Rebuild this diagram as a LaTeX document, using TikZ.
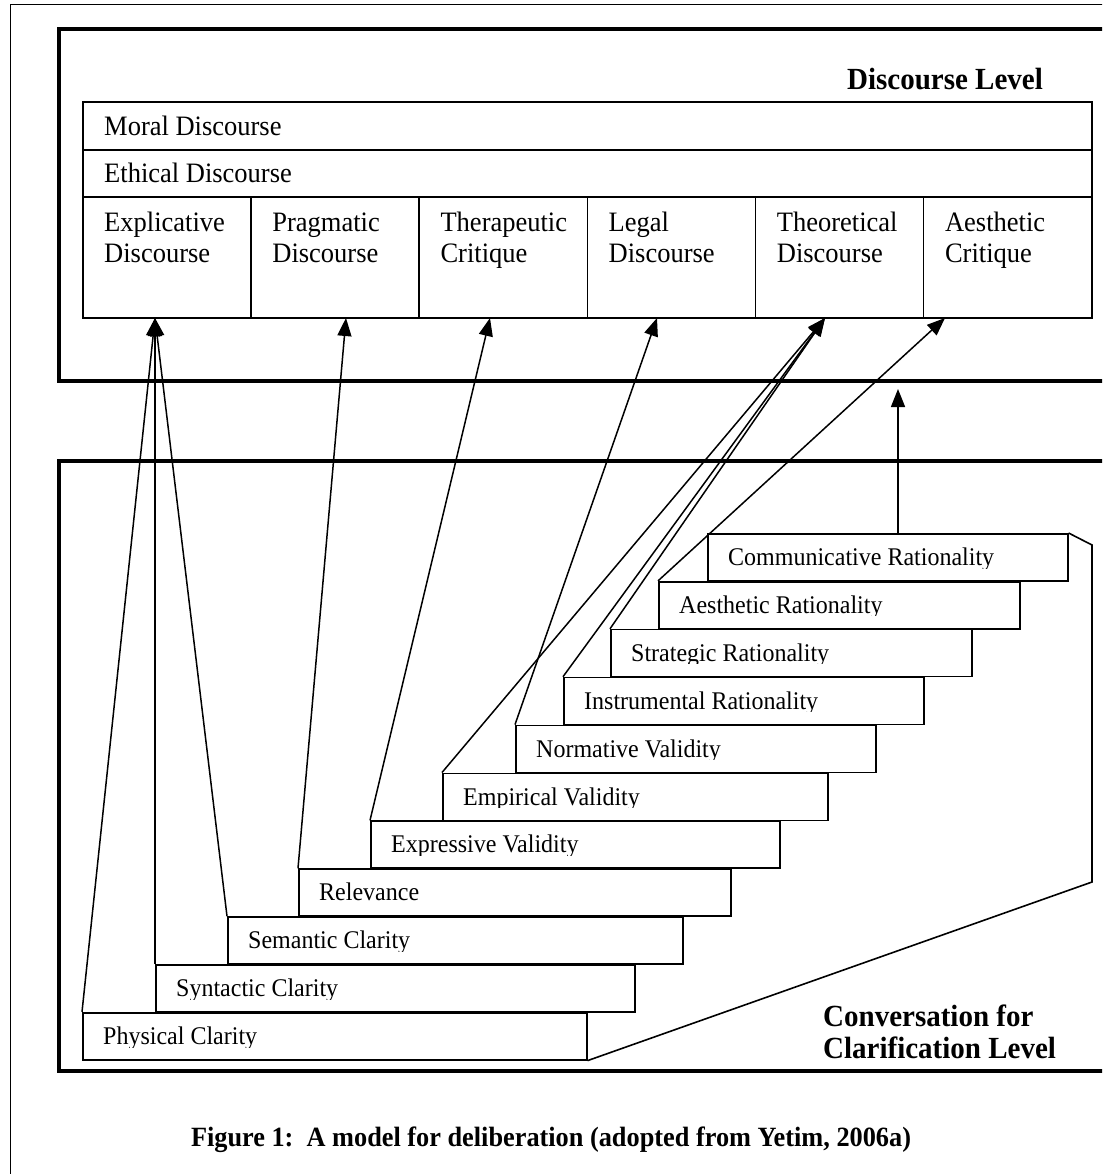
\documentclass[tikz,border=0pt]{standalone}
\usepackage{graphicx}
\usepackage{fontspec}
\setmainfont{Liberation Serif}
\usetikzlibrary{arrows.meta}
\newcommand\vs[1]{\scalebox{1}[1.06]{#1}}
\begin{document}
\begin{tikzpicture}[x=1pt,y=-1pt,
  frame/.style={line width=4.5pt},
  outer/.style={line width=1.5pt},
  boxline/.style={draw, line width=1.6pt, fill=white, inner sep=0pt, anchor=north west},
  link/.style={line width=1.5pt, -{Triangle[length=18pt,width=14pt]}},
  celltext/.style={anchor=base west, inner sep=0pt, font=\fontsize{26.5}{29.2}\selectfont},
  steptext/.style={anchor=base west, inner sep=0pt, font=\fontsize{24}{26}\selectfont},
  leveltext/.style={inner sep=0pt, font=\bfseries\fontsize{29}{31}\selectfont},
]
\clip (0,0) rectangle (1102,1174);
\fill[white] (0,0) rectangle (1102,1174);

% outer thin frame
\draw[outer] (1110,4.5) -- (10.5,4.5) -- (10.5,1180);

% level frames
\draw[frame] (1110,29) -- (59,29) -- (59,381) -- (1110,381);
\draw[frame] (1110,461) -- (59,461) -- (59,1071) -- (1110,1071);

% discourse table
\node[boxline, minimum width=1009pt, minimum height=48pt] (moral) at (82,101) {};
\node[boxline, minimum width=1009pt, minimum height=47pt] (ethical) at (82,149) {};
\node[celltext] (moraltxt) at (104,136) {\vs{Moral Discourse}};
\node[celltext] (ethicaltxt) at (104,183) {\vs{Ethical Discourse}};
\foreach \i/\a/\b in {1/Explicative/Discourse, 2/Pragmatic/Discourse, 3/Therapeutic/Critique,
                       4/Legal/Discourse, 5/Theoretical/Discourse, 6/Aesthetic/Critique}{
  \pgfmathsetmacro\cx{82+168.17*(\i-1)}
  \node[boxline, minimum width=168.17pt, minimum height=121pt] (c\i) at (\cx,196) {};
  \node[celltext] (ct\i) at (\cx+22,232) {\vs{\begin{tabular}[t]{@{}l@{}}\a\\\b\end{tabular}}};
}

\node[leveltext, anchor=base east] (dlevel) at (1043,90) {\vs{Discourse Level}};

% steps
\foreach \k/\L/\R/\txt in {10/707/1067/Communicative Rationality, 9/658/1019/Aesthetic Rationality,
   8/610/971/Strategic Rationality, 7/563/923/Instrumental Rationality, 6/515/875/Normative Validity,
   5/442/827/Empirical Validity, 4/370/779/Expressive Validity, 3/298/730/Relevance,
   2/227/682/Semantic Clarity, 1/155/634/Syntactic Clarity, 0/82/586/Physical Clarity}{
  \pgfmathsetmacro\T{1012-47.9*\k}
  \pgfmathsetmacro\W{\R-\L}
  \node[boxline, minimum width=\W pt, minimum height=47pt] (s\k) at (\L,\T) {};
  \begin{scope}
    \clip (\L,\T) rectangle (\R,\T+35);
    \node[steptext] (st\k) at (\L+21,\T+32.5) {\vs{\txt}};
  \end{scope}
}

% right side outline of the stair
\coordinate (p1) at (1092,545);
\coordinate (p2) at (1092,882);
\draw[line width=1.6pt] (s10.north east) -- (p1) -- (p2) -- (s0.south east);

\node[leveltext, anchor=base west] (clevel) at (823,1026)
  {\vs{\begin{tabular}[t]{@{}l@{}}Conversation for\\Clarification Level\end{tabular}}};

% arrow targets
\coordinate (t1) at (155,318);
\coordinate (t2) at (346,318);
\coordinate (t3) at (490,318);
\coordinate (t4) at (657,318);
\coordinate (t5) at (825,318);
\coordinate (t6) at (945,318);
\coordinate (u1) at (898,533);
\coordinate (u2) at (898,389);

\draw[link] (s0.north west) -- (t1);
\draw[link] (s1.north west) -- (t1);
\draw[link] (s2.north west) -- (t1);
\draw[link] (s3.north west) -- (t2);
\draw[link] (s4.north west) -- (t3);
\draw[link] (s6.north west) -- (t4);
\draw[link] (s5.north west) -- (t5);
\draw[link] (s7.north west) -- (t5);
\draw[link] (s8.north west) -- (t5);
\draw[link] (s9.north west) -- (t6);
\draw[link] (u1) -- (u2);

\node[inner sep=0pt, anchor=base, font=\bfseries\fontsize{26.3}{28}\selectfont] (cap) at (551,1146)
  {\vs{Figure 1:\ \ A model for deliberation (adopted from Yetim, 2006a)}};
\end{tikzpicture}
\end{document}
